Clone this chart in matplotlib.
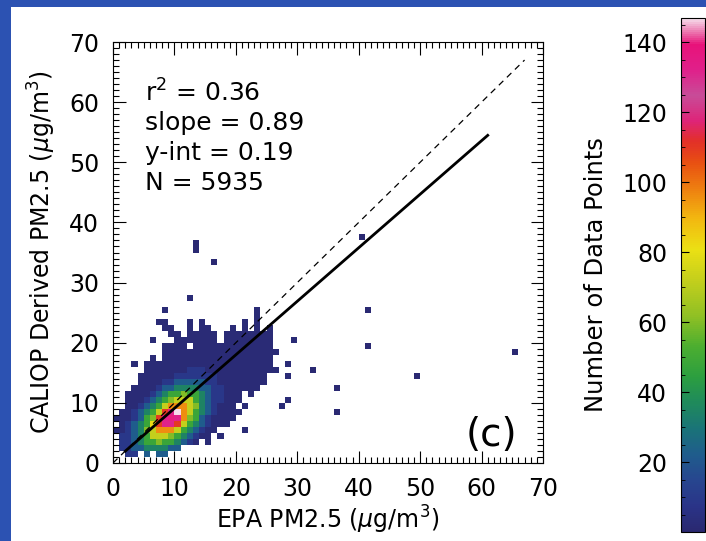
import numpy as np
import matplotlib.pyplot as plt
from matplotlib.colors import LinearSegmentedColormap
from matplotlib.patches import Rectangle
from matplotlib.ticker import MultipleLocator

plt.rcParams['font.family'] = ['DejaVu Sans']

# counts per 1x1 ug/m3 bin, coded by one character
level_counts = {'1': 2, '2': 9, '3': 22, '4': 35, '5': 48, '6': 60, '7': 72,
                '8': 82, '9': 96, 'a': 110, 'b': 132, 'c': 140, 'd': 147}

# one string per y-bin, starting at y = 0; character i is x-bin i
grid_rows = [
    "",
    "..22.3.33",
    ".2233444433",
    ".2234556554321.1",
    ".223457776543211.1",
    "11234679997543211....1",
    ".123458abba75432111",
    "1112356abcb965321111",
    ".1123457abd9754321111",
    "..112345799976432111.1.....1",
    "..1112345677754322111.......1",
    "..1111234556554322111.1",
    "...111123344443322111111",
    "....111122333332211111111",
    "....111111222222211111111...1",
    ".....1111111222111111111111",
    "...1.111111111111111111111..1",
    "......1.111111111111111111",
    "........1111111111111111111",
    "........1111.1111111111111",
    "......1...1111111.11111111...1",
    ".........11.11111.11111111",
    "........11..1.11...1.1.1.1",
    ".......11...1.1......1.1",
    ".......................1",
    "........1..............1",
    "",
    "............1",
]

# isolated bins away from the main cloud
outlier_x = [13, 13, 16, 40, 41, 41, 65, 49, 36, 36, 32]
outlier_y = [35, 36, 33, 37, 25, 19, 18, 14, 12, 8, 15]
outlier_n = [1, 1, 1, 1, 1, 1, 1, 1, 1, 1, 1]

fit_slope = 0.89
fit_yint = 0.19
fit_x = [2.0, 61.0]
one_to_one = [0.0, 67.0]
stats_lines = ['r$^2$ = 0.36', 'slope = 0.89', 'y-int = 0.19', 'N = 5935']
cbar_ticks = [20, 40, 60, 80, 100, 120, 140]

counts = np.zeros((70, 70))
for j, row in enumerate(grid_rows):
    for i, ch in enumerate(row):
        if ch != '.':
            counts[j, i] = level_counts[ch]
for x, y, n in zip(outlier_x, outlier_y, outlier_n):
    counts[y, x] = n
counts = np.ma.masked_equal(counts, 0)

cmap = LinearSegmentedColormap.from_list('idl_like', [
    (0.0, '#2a2870'), (0.05, '#2a3488'), (0.10, '#27468f'), (0.15, '#1f5c8c'),
    (0.20, '#1a7378'), (0.25, '#1f8a5c'), (0.30, '#2c9e40'), (0.36, '#4cae30'),
    (0.42, '#90c024'), (0.49, '#c4cf1c'), (0.55, '#ebe014'), (0.61, '#f2b810'),
    (0.67, '#ee7e10'), (0.72, '#e85012'), (0.76, '#e23028'), (0.80, '#de2478'),
    (0.85, '#c84c98'), (0.90, '#e0208a'), (0.95, '#e8127a'), (0.975, '#ec78b0'),
    (1.0, '#f6dcea')])

fig = plt.figure(figsize=(7.06, 5.41), dpi=100)
fig.patch.set_facecolor('#2c52b2')
fig.add_artist(Rectangle((11 / 706, 0), 1, 534 / 541, transform=fig.transFigure,
                         facecolor='white', edgecolor='none', zorder=0))

ax = fig.add_axes([113 / 706, 78 / 541, 430 / 706, 421 / 541])
edges = np.arange(0, 71)
mesh = ax.pcolormesh(edges, edges, counts, cmap=cmap, vmin=0, vmax=147)

ax.plot(one_to_one, one_to_one, color='black', lw=0.9, ls=(0, (5, 4)))
fx = np.array(fit_x)
ax.plot(fx, fit_slope * fx + fit_yint, color='black', lw=2)

ax.set_xlim(0, 70)
ax.set_ylim(0, 70)
ax.xaxis.set_major_locator(MultipleLocator(10))
ax.yaxis.set_major_locator(MultipleLocator(10))
ax.xaxis.set_minor_locator(MultipleLocator(1))
ax.yaxis.set_minor_locator(MultipleLocator(1))
ax.tick_params(which='both', direction='in', top=True, right=True,
               labelsize=17, width=0.8, pad=10)
ax.tick_params(which='major', length=9)
ax.tick_params(which='minor', length=4)
ax.set_xlabel('EPA PM2.5 ($\\mu$g/m$^3$)', fontsize=17, labelpad=2)
ax.set_ylabel('CALIOP Derived PM2.5 ($\\mu$g/m$^3$)', fontsize=17, labelpad=8)

for k, line in enumerate(stats_lines):
    ax.text(0.075, 0.879 - k * 0.0715, line, transform=ax.transAxes,
            fontsize=18, va='center', ha='left')
ax.text(0.94, 0.066, '(c)', transform=ax.transAxes, fontsize=28,
        ha='right', va='center')

cax = fig.add_axes([681 / 706, 9 / 541, 24 / 706, 514 / 541])
cb = fig.colorbar(mesh, cax=cax, ticks=cbar_ticks)
cb.outline.set_linewidth(0.8)
cax.yaxis.set_ticks_position('left')
cax.yaxis.set_label_position('left')
cax.yaxis.set_minor_locator(MultipleLocator(5))
cax.tick_params(which='both', direction='in', labelsize=17, pad=10)
cax.tick_params(which='major', length=6)
cax.tick_params(which='minor', length=3)
cb.set_label('Number of Data Points', fontsize=17.5, labelpad=10)

fig.savefig('out.png', dpi=100, facecolor=fig.get_facecolor())
